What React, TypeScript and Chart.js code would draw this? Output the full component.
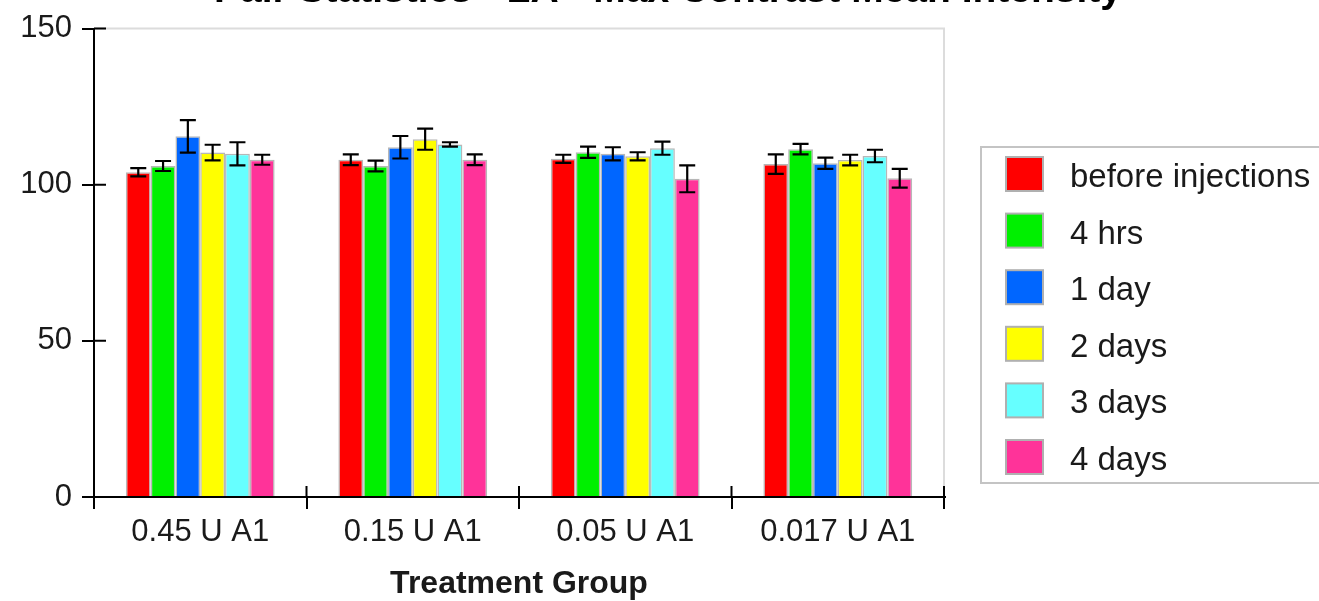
import React, { useEffect, useRef } from "react";
import { Chart, registerables } from "chart.js";

Chart.register(...registerables);

const chartTitle = "Pair Statistics - LA - Max Contrast Mean Intensity";
const xAxisTitle = "Treatment Group";
const categories = ["0.45 U A1", "0.15 U A1", "0.05 U A1", "0.017 U A1"];
const seriesLabels = ["before injections", "4 hrs", "1 day", "2 days", "3 days", "4 days"];
const seriesColors = ["#ff0000", "#00f000", "#0066ff", "#ffff00", "#66ffff", "#ff3399"];

const beforeInjections = [104, 108, 108.3, 106.6];
const beforeInjectionsErr = [1.3, 1.7, 1.3, 3.1];
const hrs4 = [106, 106, 110.4, 111.4];
const hrs4Err = [1.6, 1.7, 1.8, 1.7];
const day1 = [115.5, 112, 109.9, 106.9];
const day1Err = [5.2, 3.6, 2.1, 1.8];
const days2 = [110.3, 114.6, 109.1, 107.9];
const days2Err = [2.5, 3.4, 1.3, 1.7];
const days3 = [109.9, 112.9, 111.7, 109.2];
const days3Err = [3.7, 0.7, 2.1, 2.0];
const days4 = [108, 108, 101.9, 102.1];
const days4Err = [1.6, 1.7, 4.3, 3.0];

const yTicks = [0, 50, 100, 150];

const seriesValues = [beforeInjections, hrs4, day1, days2, days3, days4];
const seriesErrors = [beforeInjectionsErr, hrs4Err, day1Err, days2Err, days3Err, days4Err];

const FONT = "'Liberation Sans', Arial, sans-serif";

const extrasPlugin = {
  id: "extras",
  afterDatasetsDraw(chart: any) {
    const ctx = chart.ctx;
    const yScale = chart.scales.y;
    ctx.save();
    ctx.strokeStyle = "#000";
    ctx.lineWidth = 2.2;
    chart.data.datasets.forEach((ds: any, i: number) => {
      const meta = chart.getDatasetMeta(i);
      meta.data.forEach((el: any, j: number) => {
        const v = ds.data[j];
        const e = ds.errors[j];
        const yt = yScale.getPixelForValue(v + e);
        const yb = yScale.getPixelForValue(v - e);
        const x = el.x;
        ctx.beginPath();
        ctx.moveTo(x, yt);
        ctx.lineTo(x, yb);
        ctx.moveTo(x - 8, yt);
        ctx.lineTo(x + 8, yt);
        ctx.moveTo(x - 8, yb);
        ctx.lineTo(x + 8, yb);
        ctx.stroke();
      });
    });
    ctx.restore();
  },
  afterDraw(chart: any) {
    const ctx = chart.ctx;
    const area = chart.chartArea;
    const yScale = chart.scales.y;
    ctx.save();
    // plot frame (top/right)
    ctx.strokeStyle = "#dcdcdc";
    ctx.lineWidth = 2;
    ctx.beginPath();
    ctx.moveTo(area.left, area.top);
    ctx.lineTo(area.right, area.top);
    ctx.lineTo(area.right, area.bottom);
    ctx.stroke();
    // inward tick parts
    ctx.strokeStyle = "#000";
    ctx.lineWidth = 2;
    ctx.beginPath();
    yTicks.forEach((t) => {
      const y = yScale.getPixelForValue(t);
      ctx.moveTo(area.left, y);
      ctx.lineTo(area.left + 12, y);
    });
    const n = categories.length;
    for (let k = 0; k <= n; k++) {
      const x = area.left + ((area.right - area.left) * k) / n;
      ctx.moveTo(x, area.bottom);
      ctx.lineTo(x, area.bottom - 11);
    }
    ctx.stroke();
    // axes lines
    ctx.beginPath();
    ctx.moveTo(area.left, area.top);
    ctx.lineTo(area.left, area.bottom + 4);
    ctx.moveTo(area.left - 11, area.bottom);
    ctx.lineTo(area.right + 2, area.bottom);
    ctx.stroke();

    // title (partly cut off at top)
    ctx.fillStyle = "#000";
    ctx.font = `bold 39px ${FONT}`;
    ctx.textAlign = "center";
    ctx.textBaseline = "alphabetic";
    ctx.fillText(chartTitle, 668, 1.5);

    // legend
    const lx = 981;
    const ly = 147;
    ctx.strokeStyle = "#c4c4c4";
    ctx.lineWidth = 2;
    ctx.strokeRect(lx, ly, 400, 336);
    ctx.font = `33px ${FONT}`;
    ctx.textAlign = "left";
    ctx.textBaseline = "middle";
    chart.data.datasets.forEach((ds: any, i: number) => {
      const cy = 174 + i * 56.6;
      ctx.fillStyle = ds.backgroundColor;
      ctx.fillRect(1006, cy - 17, 37, 34);
      ctx.strokeStyle = "#b0b0b0";
      ctx.lineWidth = 2;
      ctx.strokeRect(1006, cy - 17, 37, 34);
      ctx.fillStyle = "#1a1a1a";
      ctx.fillText(ds.label, 1070, cy + 4);
    });
    ctx.restore();
  },
};

export default function App() {
  const ref = useRef<HTMLCanvasElement | null>(null);
  useEffect(() => {
    if (!ref.current) return;
    const chart = new Chart(ref.current, {
      type: "bar",
      data: {
        labels: categories,
        datasets: seriesLabels.map((label, i) => ({
          label,
          data: seriesValues[i],
          errors: seriesErrors[i],
          backgroundColor: seriesColors[i],
          borderColor: "rgba(170,170,170,0.85)",
          borderWidth: 1.5,
          categoryPercentage: 0.7,
          barPercentage: 1.0,
        })) as any,
      },
      options: {
        animation: false,
        responsive: false,
        maintainAspectRatio: false,
        layout: { padding: { top: 28, right: 375, left: 0, bottom: 0 } },
        plugins: {
          legend: { display: false },
          title: { display: false },
          tooltip: { enabled: false },
        },
        scales: {
          x: {
            offset: true,
            grid: {
              offset: true,
              drawOnChartArea: false,
              tickLength: 12,
              color: "#000",
              lineWidth: 2,
            },
            border: { display: false },
            ticks: {
              color: "#1a1a1a",
              font: { family: FONT, size: 31 },
              padding: 5,
              maxRotation: 0,
            },
            title: {
              display: true,
              text: xAxisTitle,
              color: "#1a1a1a",
              font: { family: FONT, size: 32, weight: "bold", lineHeight: 1 },
              padding: { top: 0, bottom: 1 },
            },
            afterFit(scale: any) {
              scale.height = 104;
            },
          },
          y: {
            min: 0,
            max: 150,
            grid: {
              drawOnChartArea: false,
              tickLength: 12,
              color: "#000",
              lineWidth: 2,
            },
            border: { display: false },
            ticks: {
              stepSize: 50,
              color: "#1a1a1a",
              font: { family: FONT, size: 31 },
              padding: 10,
            },
            afterFit(scale: any) {
              scale.width = 94;
            },
          },
        },
      } as any,
      plugins: [extrasPlugin],
    });
    return () => chart.destroy();
  }, []);
  return (
    <div style={{ position: "absolute", left: 0, top: 0, width: 1319, height: 601, background: "#fff" }}>
      <canvas ref={ref} width={1319} height={601} style={{ display: "block" }} />
    </div>
  );
}
